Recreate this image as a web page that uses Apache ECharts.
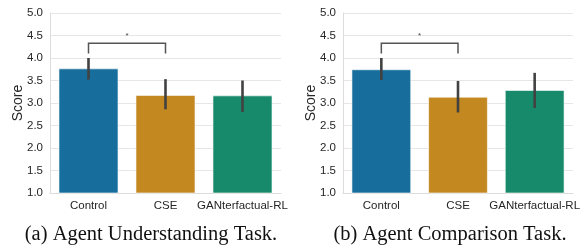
<!DOCTYPE html>
<html lang="en">
<head>
  <meta charset="UTF-8">
  <title>Agent tasks</title>
  <script src="https://cdnjs.cloudflare.com/ajax/libs/echarts/6.0.0/echarts.min.js"></script>
  <style>
    body { margin: 0; background: #fff; }
    #chart { width: 584px; height: 250px; }
  </style>
</head>
<body>
<div id="chart"></div>
<script>
  // datos
  var categories = ['Control', 'CSE', 'GANterfactual-RL'];
  var colors = ['#176d9c', '#c38820', '#168a6a'];

  var understandMean = [3.77, 3.18, 3.17];
  var understandLow = [3.52, 2.86, 2.80];
  var understandHigh = [4.00, 3.53, 3.50];

  var compareMean = [3.75, 3.14, 3.29];
  var compareLow = [3.51, 2.79, 2.89];
  var compareHigh = [4.00, 3.49, 3.67];

  var yTicks = [1.0, 1.5, 2.0, 2.5, 3.0, 3.5, 4.0, 4.5, 5.0];
  // corchete de significancia: Control vs CSE
  var bracketPair = ['Control', 'CSE'];
  var bracketTop = 4.33;
  var bracketLeg = 4.10;
  var captions = ['(a) Agent Understanding Task.', '(b) Agent Comparison Task.'];

  var chart = echarts.init(document.getElementById('chart'));

  var grids = [
    { left: 50, top: 13, width: 231, height: 180 },
    { left: 343, top: 13, width: 230, height: 180 }
  ];

  function xAxisFor(i) {
    return {
      type: 'category', gridIndex: i, data: categories,
      axisLine: { lineStyle: { color: '#dcdcdc' } },
      axisTick: { show: false },
      axisLabel: { interval: 0, color: '#262626', fontSize: 11.5, fontFamily: 'Liberation Sans', margin: 7 },
      splitLine: { show: false }
    };
  }

  function yAxisFor(i) {
    return {
      type: 'value', gridIndex: i, min: 1, max: 5, interval: 0.5,
      name: 'Score', nameLocation: 'middle', nameGap: 25, nameMoveOverlap: false,
      nameTextStyle: { color: '#262626', fontSize: 14, fontFamily: 'Liberation Sans' },
      axisLine: { show: true, lineStyle: { color: '#dcdcdc' } },
      axisTick: { show: false },
      axisLabel: {
        color: '#262626', fontSize: 11.5, fontFamily: 'Liberation Sans', margin: 7,
        formatter: function (v) { return yTicks.indexOf(v) >= 0 ? v.toFixed(1) : ''; }
      },
      splitLine: { lineStyle: { color: '#e6e6e6' } }
    };
  }

  function barSeries(i, mean) {
    return {
      type: 'bar', xAxisIndex: i, yAxisIndex: i, barWidth: '78%',
      data: mean.map(function (v, k) {
        return { value: v, itemStyle: { color: colors[k], borderColor: 'rgba(255,255,255,0.6)', borderWidth: 1 } };
      }),
      z: 2
    };
  }

  function errorSeries(i, low, high) {
    return {
      type: 'custom', xAxisIndex: i, yAxisIndex: i, z: 5,
      data: categories.map(function (c, k) { return [k, low[k], high[k]]; }),
      renderItem: function (params, api) {
        var a = api.coord([api.value(0), api.value(1)]);
        var b = api.coord([api.value(0), api.value(2)]);
        return {
          type: 'line',
          shape: { x1: a[0], y1: a[1], x2: b[0], y2: b[1] },
          style: { stroke: '#424242', lineWidth: 2.6 }
        };
      }
    };
  }

  function bracketSeries(i) {
    var k1 = categories.indexOf(bracketPair[0]);
    var k2 = categories.indexOf(bracketPair[1]);
    return {
      type: 'custom', xAxisIndex: i, yAxisIndex: i, z: 6,
      data: [[k1, k2, bracketTop, bracketLeg]],
      renderItem: function (params, api) {
        var p1 = api.coord([api.value(0), api.value(3)]);
        var p2 = api.coord([api.value(0), api.value(2)]);
        var p3 = api.coord([api.value(1), api.value(2)]);
        var p4 = api.coord([api.value(1), api.value(3)]);
        return {
          type: 'group',
          children: [
            {
              type: 'polyline',
              shape: { points: [p1, p2, p3, p4] },
              style: { stroke: '#555555', lineWidth: 1.5, fill: null }
            },
            {
              type: 'text',
              style: {
                x: (p2[0] + p3[0]) / 2, y: p2[1] - 3, text: '*',
                fill: '#444444', fontSize: 8, align: 'center', verticalAlign: 'bottom',
                fontFamily: 'Liberation Sans'
              }
            }
          ]
        };
      }
    };
  }

  var option = {
    animation: false,
    backgroundColor: '#ffffff',
    grid: grids,
    xAxis: [xAxisFor(0), xAxisFor(1)],
    yAxis: [yAxisFor(0), yAxisFor(1)],
    title: [
      { text: captions[0], left: 146, top: 219, textAlign: 'center',
        textStyle: { fontFamily: 'Liberation Serif', fontSize: 20.5, fontWeight: 'normal', color: '#111' } },
      { text: captions[1], left: 445, top: 219, textAlign: 'center',
        textStyle: { fontFamily: 'Liberation Serif', fontSize: 20.5, fontWeight: 'normal', color: '#111' } }
    ],
    series: [
      barSeries(0, understandMean),
      errorSeries(0, understandLow, understandHigh),
      bracketSeries(0),
      barSeries(1, compareMean),
      errorSeries(1, compareLow, compareHigh),
      bracketSeries(1)
    ]
  };

  chart.setOption(option);
</script>
</body>
</html>
